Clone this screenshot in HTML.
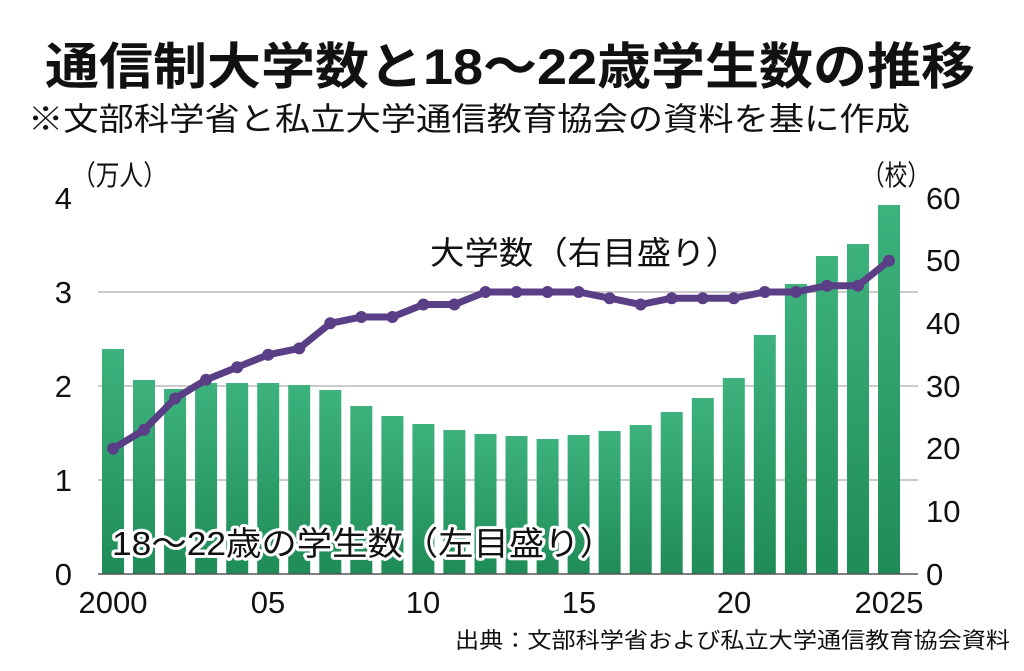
<!DOCTYPE html>
<html><head><meta charset="utf-8"><style>
body{margin:0;background:#fff;}
svg text{font-family:"Liberation Sans","Noto Sans CJK JP",sans-serif;fill:#111;}
</style></head><body>
<svg width="1024" height="666" viewBox="0 0 1024 666" xmlns="http://www.w3.org/2000/svg">
<defs><linearGradient id="g" x1="0" y1="0" x2="0" y2="1"><stop offset="0" stop-color="#3db27d"/><stop offset="1" stop-color="#1f8c57"/></linearGradient></defs>
<text x="45" y="84" font-size="50" font-weight="bold" textLength="930" lengthAdjust="spacingAndGlyphs">通信制大学数と18～22歳学生数の推移</text>
<text x="28" y="130" font-size="32" textLength="882" lengthAdjust="spacingAndGlyphs">※文部科学省と私立大学通信教育協会の資料を基に作成</text>
<text x="72" y="185" font-size="28" textLength="95" lengthAdjust="spacingAndGlyphs">（万人）</text>
<text x="862" y="185" font-size="28" textLength="68" lengthAdjust="spacingAndGlyphs">（校）</text>
<g stroke="#bbb" stroke-width="1.5"><line x1="98" y1="292" x2="918" y2="292"/><line x1="98" y1="386" x2="918" y2="386"/><line x1="98" y1="480" x2="918" y2="480"/></g>
<g font-size="31" text-anchor="end"><text x="72" y="209">4</text><text x="72" y="303">3</text><text x="72" y="397">2</text><text x="72" y="491">1</text><text x="72" y="585">0</text></g>
<g font-size="31"><text x="926" y="209">60</text><text x="926" y="271">50</text><text x="926" y="334">40</text><text x="926" y="397">30</text><text x="926" y="459">20</text><text x="926" y="522">10</text><text x="926" y="585">0</text></g>
<g fill="url(#g)">
<rect x="102" y="349" width="22" height="225"/><rect x="133" y="380" width="22" height="194"/><rect x="164.1" y="389" width="22" height="185"/><rect x="195.1" y="383" width="22" height="191"/><rect x="226.2" y="383" width="22" height="191"/><rect x="257.2" y="383" width="22" height="191"/><rect x="288.2" y="385" width="22" height="189"/><rect x="319.3" y="390" width="22" height="184"/><rect x="350.3" y="406" width="22" height="168"/><rect x="381.4" y="416" width="22" height="158"/><rect x="412.4" y="424" width="22" height="150"/><rect x="443.4" y="430" width="22" height="144"/><rect x="474.5" y="434" width="22" height="140"/><rect x="505.5" y="436" width="22" height="138"/><rect x="536.6" y="439" width="22" height="135"/><rect x="567.6" y="435" width="22" height="139"/><rect x="598.6" y="431" width="22" height="143"/><rect x="629.7" y="425" width="22" height="149"/><rect x="660.7" y="412" width="22" height="162"/><rect x="691.8" y="398" width="22" height="176"/><rect x="722.8" y="378" width="22" height="196"/><rect x="753.8" y="335" width="22" height="239"/><rect x="784.9" y="284" width="22" height="290"/><rect x="815.9" y="256" width="22" height="318"/><rect x="847" y="244" width="22" height="330"/><rect x="878" y="205" width="22" height="369"/>
</g>
<line x1="98" y1="574" x2="918" y2="574" stroke="#555" stroke-width="1.5"/>
<polyline fill="none" stroke="#5b3f86" stroke-width="7" stroke-linejoin="round" points="113,448.7 144.04,429.9 175.08,398.5 206.12,379.7 237.16,367.2 268.2,354.7 299.24,348.4 330.28,323.3 361.32,317 392.36,317 423.4,304.5 454.44,304.5 485.48,292 516.52,292 547.56,292 578.6,292 609.64,298.2 640.68,304.5 671.72,298.2 702.76,298.2 733.8,298.2 764.84,292 795.88,292 826.92,285.7 857.96,285.7 889,260.7"/>
<g fill="#5b3f86">
<circle cx="113" cy="448.7" r="6"/><circle cx="144.04" cy="429.9" r="6"/><circle cx="175.08" cy="398.5" r="6"/><circle cx="206.12" cy="379.7" r="6"/><circle cx="237.16" cy="367.2" r="6"/><circle cx="268.2" cy="354.7" r="6"/><circle cx="299.24" cy="348.4" r="6"/><circle cx="330.28" cy="323.3" r="6"/><circle cx="361.32" cy="317" r="6"/><circle cx="392.36" cy="317" r="6"/><circle cx="423.4" cy="304.5" r="6"/><circle cx="454.44" cy="304.5" r="6"/><circle cx="485.48" cy="292" r="6"/><circle cx="516.52" cy="292" r="6"/><circle cx="547.56" cy="292" r="6"/><circle cx="578.6" cy="292" r="6"/><circle cx="609.64" cy="298.2" r="6"/><circle cx="640.68" cy="304.5" r="6"/><circle cx="671.72" cy="298.2" r="6"/><circle cx="702.76" cy="298.2" r="6"/><circle cx="733.8" cy="298.2" r="6"/><circle cx="764.84" cy="292" r="6"/><circle cx="795.88" cy="292" r="6"/><circle cx="826.92" cy="285.7" r="6"/><circle cx="857.96" cy="285.7" r="6"/><circle cx="889" cy="260.7" r="6"/>
</g>
<text x="430" y="264" font-size="32" textLength="310" lengthAdjust="spacingAndGlyphs">大学数（右目盛り）</text>
<text x="112" y="555" font-size="33" stroke="#fff" stroke-width="6" stroke-linejoin="round" style="paint-order:stroke" textLength="503" lengthAdjust="spacingAndGlyphs">18～22歳の学生数（左目盛り）</text>
<g font-size="31" text-anchor="middle"><text x="113" y="613">2000</text><text x="268" y="613">05</text><text x="423" y="613">10</text><text x="579" y="613">15</text><text x="734" y="613">20</text><text x="889" y="613">2025</text></g>
<text x="455" y="648" font-size="22" textLength="555" lengthAdjust="spacingAndGlyphs">出典：文部科学省および私立大学通信教育協会資料</text>
</svg>
</body></html>
